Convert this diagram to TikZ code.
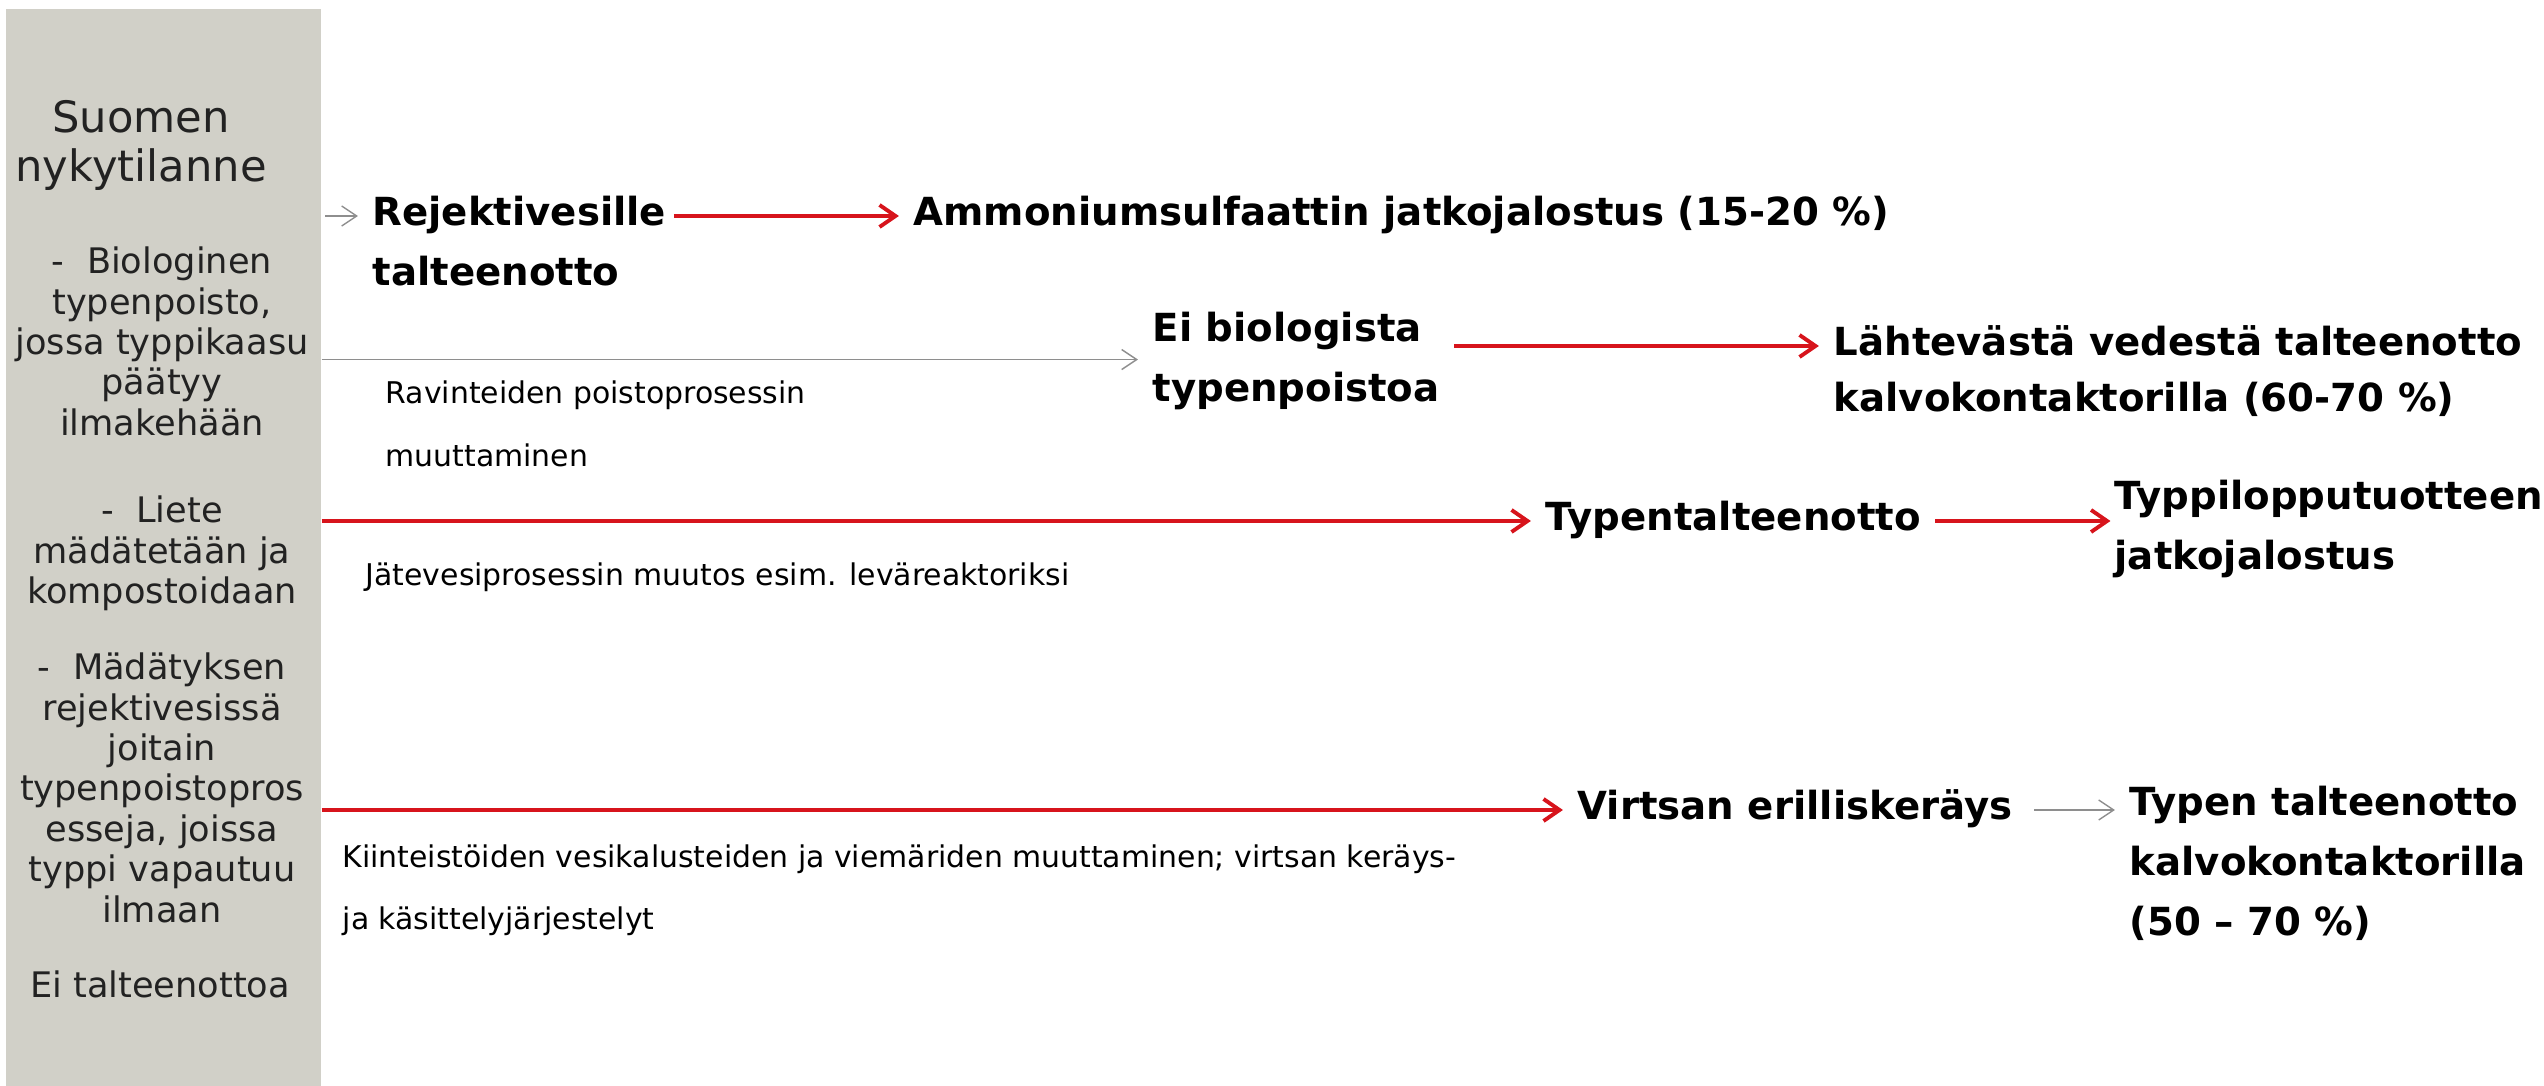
\documentclass[tikz,border=0pt]{standalone}
\usepackage{fontspec}
\setmainfont{DejaVu Sans}
\usetikzlibrary{arrows.meta, positioning}
\definecolor{panelbg}{HTML}{D1D0C8}
\definecolor{arrred}{HTML}{D7141C}
\definecolor{arrgrey}{HTML}{8E8E8E}
\definecolor{sidetext}{HTML}{222222}
% multi-line texts whose baseline is the first line
\newcommand{\toplines}[1]{\begin{tabular}[t]{@{}l@{}}#1\end{tabular}}
\newcommand{\topcentre}[1]{\begin{tabular}[t]{@{}c@{}}#1\end{tabular}}

\begin{document}
\begin{tikzpicture}[x=0.01cm, y=-0.01cm,
    every node/.style={inner sep=0pt},
    side/.style={font=\fontsize{10}{11.5}\selectfont, anchor=mid, text=sidetext},
    lbl/.style={font=\bfseries\fontsize{11}{17}\selectfont, anchor=mid west},
    note/.style={font=\fontsize{8.5}{18}\selectfont, anchor=mid west},
    redarr/.style={-{Straight Barb[length=1.6mm, width=2.2mm]}, line width=1.1pt, arrred,
                   shorten <=4pt, shorten >=4pt},
    greyarr/.style={-{Straight Barb[length=1.5mm, width=2mm]}, line width=0.4pt, arrgrey,
                    shorten <=4pt, shorten >=4pt}
]
    \useasboundingbox (0,0) rectangle (2544,1086);
    % left panel
    \node[fill=panelbg, anchor=north west, minimum width=3.15cm, minimum height=10.78cm] (panel) at (5,8) {};
    \node[side, font=\fontsize{12.3}{14}\selectfont] (title) at (141,123) {\topcentre{Suomen\\nykytilanne}};
    \node[side] (bio) at (162,264) {\topcentre{-\ \ Biologinen\\typenpoisto,\\jossa typpikaasu\\päätyy\\ilmakehään}};
    \node[side] (liete) at (162,513) {\topcentre{-\ \ Liete\\mädätetään ja\\kompostoidaan}};
    \node[side] (mada) at (162,670) {\topcentre{-\ \ Mädätyksen\\rejektivesissä\\joitain\\typenpoistopros\\esseja, joissa\\typpi vapautuu\\ilmaan}};
    \node[side] (eital) at (160,988) {Ei talteenottoa};

    % row 1
    \node[lbl] (rej) at (372,216) {\toplines{Rejektivesille\\talteenotto}};
    \node[lbl] (amm) at (913,216) {Ammoniumsulfaattin jatkojalostus (15-20 \%)};
    \draw[greyarr, shorten <=1pt] (panel.east |- rej.mid west) -- (rej.mid west);
    \draw[redarr, shorten <=2pt] (rej.mid east) -- (amm.mid west);

    % row 2
    \node[lbl] (eibio) at (1152,332) {\toplines{Ei biologista\\typenpoistoa}};
    \node[lbl, font=\bfseries\fontsize{11}{16}\selectfont] (laht) at (1833,346) {\toplines{Lähtevästä vedestä talteenotto\\kalvokontaktorilla (60-70 \%)}};
    \node[note] (rav) at (385,394) {\toplines{Ravinteiden poistoprosessin\\muuttaminen}};
    \draw[greyarr, shorten <=0pt] (panel.east |- eibio.west) -- (eibio.west);
    \draw[redarr] (eibio.east |- laht.mid west) -- (laht.mid west);

    % row 3
    \node[lbl] (typ) at (1545,521) {Typentalteenotto};
    \node[lbl] (lop) at (2114,500) {\toplines{Typpilopputuotteen\\jatkojalostus}};
    \node[note] (jate) at (365,576) {Jätevesiprosessin muutos esim. leväreaktoriksi};
    \draw[redarr, shorten <=0pt] (panel.east |- typ.mid west) -- (typ.mid west);
    \draw[redarr, shorten >=1pt] (typ.mid east) -- (typ.mid east -| lop.west);

    % row 4
    \node[lbl] (virtsa) at (1577,810) {Virtsan erilliskeräys};
    \node[lbl] (typen) at (2129,806) {\toplines{Typen talteenotto\\kalvokontaktorilla\\(50 – 70 \%)}};
    \node[note, font=\fontsize{8.5}{17.6}\selectfont] (kiint) at (342,858) {\toplines{Kiinteistöiden vesikalusteiden ja viemäriden muuttaminen; virtsan keräys-\\ja käsittelyjärjestelyt}};
    \draw[redarr, shorten <=0pt] (panel.east |- virtsa.mid west) -- (virtsa.mid west);
    \draw[greyarr, shorten <=6pt] (virtsa.mid east) -- (virtsa.mid east -| typen.west);
\end{tikzpicture}
\end{document}
